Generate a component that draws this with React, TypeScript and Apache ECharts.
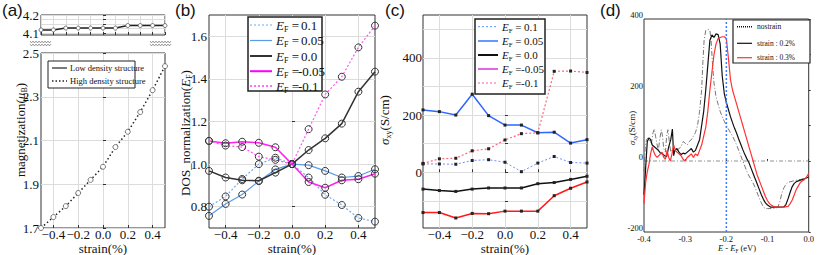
import React, { useEffect, useRef } from 'react';
import * as echarts from 'echarts';

// ---------------- data ----------------
const strain = [-0.5, -0.4, -0.3, -0.2, -0.1, 0, 0.1, 0.2, 0.3, 0.4, 0.5];

// (a) magnetization (muB)
const magLow = [4.118, 4.118, 4.128, 4.128, 4.128, 4.128, 4.128, 4.142, 4.142, 4.142, 4.142];
const magHigh = [1.70, 1.75, 1.80, 1.86, 1.92, 1.98, 2.07, 2.14, 2.23, 2.33, 2.44];

// (b) DOS normalization
const dos01 = [0.80, 0.848, 0.93, 1.0, 1.03, 1.0, 0.937, 0.856, 0.808, 0.747, 0.73];
const dos005 = [0.757, 0.813, 0.857, 0.92, 0.975, 1.0, 0.995, 0.968, 0.937, 0.944, 0.976];
const dos00 = [0.968, 0.937, 0.924, 0.922, 0.96, 1.0, 1.066, 1.121, 1.19, 1.34, 1.434];
const dosM005 = [1.109, 1.098, 1.105, 1.10, 1.079, 1.0, 0.916, 0.889, 0.924, 0.929, 0.955];
const dosM01 = [1.109, 1.087, 1.08, 1.035, 1.02, 1.0, 1.164, 1.327, 1.41, 1.548, 1.65];

// (c) sigma_xy (S/cm)
const sig01 = [29, 29, 28, 41, 44, 35, 2, 32, 55, 34, 32];
const sig005 = [218, 212, 200, 273, 198, 165, 165, 138, 140, 102, 114];
const sig00 = [-59, -64, -67, -59, -55, -55, -55, -40, -36, -25, -14];
const sigM005 = [-141, -141, -160, -144, -145, -136, -136, -136, -82, -56, -34];
const sigM01 = [31, 47, 49, 75, 82, 113, 135, 138, 353, 354, 349];

// (d) sigma_xy vs E - EF
const dNoStrain: number[][] = [
  [-0.400, -30], [-0.397, 40], [-0.394, 60], [-0.390, 65], [-0.386, 55], [-0.382, 50], [-0.378, 80], [-0.375, 90],
  [-0.372, 70], [-0.368, 45], [-0.365, 30], [-0.362, 60], [-0.358, 88], [-0.355, 70], [-0.352, 35], [-0.348, 25],
  [-0.345, 70], [-0.342, 88], [-0.338, 50], [-0.335, 25], [-0.332, 30], [-0.328, 20], [-0.325, 35], [-0.320, 30],
  [-0.315, 35], [-0.310, 40], [-0.305, 55], [-0.300, 50], [-0.295, 45], [-0.290, 55], [-0.285, 60], [-0.280, 70],
  [-0.275, 80], [-0.270, 100], [-0.265, 140], [-0.260, 200], [-0.257, 280], [-0.254, 340], [-0.250, 368], [-0.245, 371],
  [-0.240, 368], [-0.237, 340], [-0.234, 280], [-0.230, 220], [-0.225, 180], [-0.220, 160], [-0.215, 140], [-0.210, 125],
  [-0.205, 112], [-0.200, 100], [-0.195, 90], [-0.190, 80], [-0.185, 70], [-0.180, 58], [-0.175, 45], [-0.170, 30],
  [-0.165, 15], [-0.160, 0], [-0.155, -15], [-0.150, -30], [-0.145, -42], [-0.140, -52], [-0.135, -62], [-0.130, -75],
  [-0.125, -90], [-0.120, -105], [-0.115, -118], [-0.110, -130], [-0.105, -134], [-0.100, -134], [-0.090, -134], [-0.080, -133],
  [-0.075, -130], [-0.070, -115], [-0.065, -90], [-0.060, -75], [-0.055, -65], [-0.050, -60], [-0.040, -57], [-0.030, -54],
  [-0.020, -52], [-0.010, -50], [0, -45],
];
const dStrain02: number[][] = [
  [-0.400, -95], [-0.396, -20], [-0.392, 55], [-0.388, 65], [-0.384, 60], [-0.380, 45], [-0.375, 40], [-0.370, 35],
  [-0.365, 30], [-0.360, 22], [-0.355, 20], [-0.350, 15], [-0.345, 12], [-0.340, 40], [-0.335, 60], [-0.331, 90],
  [-0.328, 15], [-0.325, 30], [-0.320, 35], [-0.315, 25], [-0.310, 18], [-0.305, 22], [-0.300, 20], [-0.295, 25],
  [-0.290, 30], [-0.285, 35], [-0.280, 25], [-0.275, 30], [-0.270, 45], [-0.265, 60], [-0.260, 100], [-0.255, 140],
  [-0.250, 200], [-0.245, 270], [-0.240, 340], [-0.235, 355], [-0.230, 348], [-0.225, 358], [-0.220, 356], [-0.215, 330],
  [-0.210, 240], [-0.205, 190], [-0.200, 165], [-0.195, 145], [-0.190, 125], [-0.185, 108], [-0.180, 92], [-0.175, 78],
  [-0.170, 62], [-0.165, 47], [-0.160, 32], [-0.155, 18], [-0.150, 6], [-0.145, -5], [-0.140, -20], [-0.135, -35],
  [-0.130, -50], [-0.125, -65], [-0.120, -80], [-0.115, -95], [-0.110, -108], [-0.105, -118], [-0.100, -124], [-0.092, -130],
  [-0.080, -130], [-0.070, -130], [-0.060, -129], [-0.055, -122], [-0.050, -106], [-0.045, -88], [-0.040, -72], [-0.035, -63],
  [-0.030, -58], [-0.020, -54], [-0.010, -50], [0, -45],
];
const dStrain03: number[][] = [
  [-0.400, -120], [-0.396, -60], [-0.392, -30], [-0.388, -10], [-0.384, 20], [-0.380, 40], [-0.376, 25], [-0.372, 15],
  [-0.368, 10], [-0.364, 15], [-0.360, 20], [-0.356, 25], [-0.352, 10], [-0.348, 5], [-0.344, 30], [-0.340, 10],
  [-0.336, 0], [-0.332, 20], [-0.328, 45], [-0.324, 30], [-0.320, 25], [-0.315, 20], [-0.310, 15], [-0.305, 5],
  [-0.300, 0], [-0.295, 10], [-0.290, 15], [-0.285, 20], [-0.280, 10], [-0.275, 20], [-0.270, 15], [-0.265, 30],
  [-0.260, 45], [-0.255, 70], [-0.250, 95], [-0.245, 140], [-0.240, 200], [-0.235, 250], [-0.230, 300], [-0.225, 330],
  [-0.220, 345], [-0.215, 348], [-0.210, 350], [-0.205, 350], [-0.200, 345], [-0.195, 290], [-0.190, 230], [-0.185, 200],
  [-0.180, 180], [-0.175, 160], [-0.170, 140], [-0.165, 120], [-0.160, 100], [-0.155, 80], [-0.150, 60], [-0.145, 40],
  [-0.140, 20], [-0.135, 0], [-0.130, -20], [-0.125, -40], [-0.120, -55], [-0.115, -70], [-0.110, -85], [-0.105, -100],
  [-0.100, -112], [-0.095, -120], [-0.090, -125], [-0.085, -128], [-0.080, -130], [-0.070, -130], [-0.060, -130], [-0.050, -128],
  [-0.045, -120], [-0.040, -110], [-0.035, -95], [-0.030, -80], [-0.025, -70], [-0.020, -60], [-0.010, -52], [-0.005, -45],
  [0, -35],
];
const fermiLine = [[-0.2, -200], [-0.2, 400]];
const zeroLine = [[-0.4, 0], [0, 0]];

const strainTicks = [-0.4, -0.2, 0, 0.2, 0.4];
const magTicks = [1.7, 1.9, 2.1, 2.3, 2.5];
const dosTicks = [0.8, 1.0, 1.2, 1.4, 1.6];
const sigTicks = [-100, 0, 100, 200, 300, 400, 500];
const sigLabels = [0, 200, 400];

// ---------------- helpers ----------------
const SERIF = 'Liberation Serif';
const SANS = 'Liberation Sans';
const pair = (ys: number[]) => strain.map((x, i) => [x, ys[i]]);

const gridLine = { show: true, lineStyle: { color: '#dcdcdc', width: 1 } };

function text(x: number, y: number, t: string, o: any = {}) {
  const { rotation, ...style } = o;
  return {
    type: 'text', x, y, z: 100, rotation: rotation || 0,
    style: {
      text: t, fill: '#111', fontFamily: SERIF, fontSize: 13,
      align: 'left', verticalAlign: 'middle', ...style,
    },
  };
}
function line(x1: number, y1: number, x2: number, y2: number, stroke: string, lineWidth: number, lineDash?: number[]) {
  return {
    type: 'line', z: 100,
    shape: { x1, y1, x2, y2 },
    style: { stroke, lineWidth, lineDash: lineDash || null },
  };
}
function box(x: number, y: number, w: number, h: number, lw: number) {
  return {
    type: 'rect', z: 99,
    shape: { x, y, width: w, height: h },
    style: { fill: '#fff', stroke: '#222', lineWidth: lw },
  };
}
// small wavy break symbol (two stacked zigzags)
function breakMark(x0: number, y0: number, w: number) {
  const els: any[] = [];
  [0, 3].forEach((dy) => {
    const pts: number[][] = [];
    for (let px = 0; px <= w; px += 1.5) {
      pts.push([x0 + px, y0 + dy + ((Math.round(px / 1.5) % 2) ? 0.9 : -0.9)]);
    }
    els.push({ type: 'polyline', z: 100, shape: { points: pts }, style: { stroke: '#777', lineWidth: 0.8, fill: null } });
  });
  return els;
}

function efRich(fs: number) {
  return {
    i: { fontFamily: SERIF, fontStyle: 'italic', fontSize: fs, lineHeight: fs + 3 },
    s: { fontFamily: SERIF, fontSize: fs * 0.62, verticalAlign: 'bottom', lineHeight: fs * 0.62 },
    n: { fontFamily: SERIF, fontSize: fs, lineHeight: fs + 3 },
  };
}

const efLegend = [
  { v: '0.1', neg: false },
  { v: '0.05', neg: false },
  { v: '0.0', neg: false },
  { v: '-0.05', neg: true },
  { v: '-0.1', neg: true },
];

const minus = (s: string) => s.replace('-', '\u2212');

function App() {
  const ref = useRef<HTMLDivElement>(null);
  useEffect(() => {
    if (!ref.current) return;
    const chart = echarts.init(ref.current, null, { renderer: 'svg' });

    const axisLabelStyle = { fontFamily: SERIF, fontSize: 13, color: '#111' };
    const tick = { show: true, inside: true, length: 3, lineStyle: { color: '#333' } };
    const fmt1 = (v: number) => (Math.abs(v) < 1e-9 ? '0.0' : minus(v.toFixed(1)));
    const fmtD = (v: number) => (Math.abs(v) < 1e-9 ? '0.0' : v.toFixed(1));

    const xAxis: any[] = [
      { type: 'value', gridIndex: 0, min: -0.5, max: 0.5, interval: 0.1, axisLine: { show: false },
        axisLabel: { show: false }, axisTick: tick, splitLine: gridLine },
      { type: 'value', gridIndex: 1, min: -0.5, max: 0.5, axisLine: { show: false },
        axisLabel: { ...axisLabelStyle, margin: 0, customValues: strainTicks, formatter: fmt1 },
        axisTick: { ...tick, customValues: strainTicks }, splitLine: gridLine },
      { type: 'value', gridIndex: 2, min: -0.5, max: 0.5, axisLine: { show: false },
        axisLabel: { ...axisLabelStyle, margin: 0, customValues: strainTicks, formatter: fmt1 },
        axisTick: { ...tick, customValues: strainTicks }, splitLine: gridLine },
      { type: 'value', gridIndex: 3, min: -0.5, max: 0.5, axisLine: { show: false },
        axisLabel: { ...axisLabelStyle, margin: 0, customValues: strainTicks, formatter: fmt1 },
        axisTick: { ...tick, customValues: strainTicks }, splitLine: gridLine },
      { type: 'value', gridIndex: 4, min: -0.4, max: 0, interval: 0.1, axisLine: { show: false },
        axisLabel: { fontFamily: SERIF, fontSize: 8.5, color: '#111', margin: 2, formatter: fmtD },
        axisTick: { ...tick, length: 2 }, splitLine: { show: false } },
    ];

    const yAxis: any[] = [
      { type: 'value', gridIndex: 0, min: 4.09, max: 4.2, axisLine: { show: false },
        axisLabel: { ...axisLabelStyle, margin: 2, customValues: [4.1, 4.2], formatter: (v: number) => v.toFixed(1) },
        axisTick: { ...tick, customValues: [4.1, 4.125, 4.15, 4.175, 4.2] }, splitLine: gridLine },
      { type: 'value', gridIndex: 1, min: 1.7, max: 2.5, axisLine: { show: false },
        axisLabel: { ...axisLabelStyle, margin: 2, customValues: magTicks, formatter: (v: number) => v.toFixed(1) },
        axisTick: { ...tick, customValues: magTicks }, splitLine: gridLine },
      { type: 'value', gridIndex: 2, min: 0.7, max: 1.7, axisLine: { show: false },
        axisLabel: { ...axisLabelStyle, margin: 2, customValues: dosTicks, formatter: (v: number) => v.toFixed(1) },
        axisTick: { ...tick, customValues: dosTicks }, splitLine: gridLine },
      { type: 'value', gridIndex: 3, min: -195, max: 550, axisLine: { show: false },
        axisLabel: { ...axisLabelStyle, margin: 1, customValues: sigLabels },
        axisTick: { ...tick, customValues: sigTicks }, splitLine: gridLine },
      { type: 'value', gridIndex: 4, min: -200, max: 400, interval: 100, axisLine: { show: false },
        axisLabel: { fontFamily: SERIF, fontSize: 8.5, color: '#111', margin: 1, verticalAlign: 'bottom',
          formatter: (v: number) => (Math.round(v) % 200 === 0 ? String(Math.round(v)) : '') },
        axisTick: { ...tick, length: 2 }, splitLine: { show: false } },
    ];

    const gridBase = { show: true, borderColor: '#333', borderWidth: 1, backgroundColor: 'transparent', containLabel: false };
    const grid = [
      { ...gridBase, left: 41, top: 15, width: 124, height: 20 },
      { ...gridBase, left: 41, top: 53, width: 124, height: 175 },
      { ...gridBase, left: 209, top: 15, width: 166, height: 213 },
      { ...gridBase, left: 423, top: 15, width: 164, height: 213 },
      { ...gridBase, left: 644, top: 19, width: 168, height: 213 },
    ];

    const openCircle = { color: 'rgba(0,0,0,0)', borderColor: '#333', borderWidth: 1 };
    const bSeries = (data: number[], ls: any) => ({
      type: 'line', xAxisIndex: 2, yAxisIndex: 2, data: pair(data),
      symbol: 'circle', symbolSize: 7, itemStyle: openCircle, lineStyle: ls, silent: true,
    });
    const cSeries = (data: number[], ls: any) => ({
      type: 'line', xAxisIndex: 3, yAxisIndex: 3, data: pair(data),
      symbol: 'rect', symbolSize: 3, itemStyle: { color: '#222' }, lineStyle: ls, silent: true,
    });
    const dSeries = (data: number[][], ls: any) => ({
      type: 'line', xAxisIndex: 4, yAxisIndex: 4, data, symbol: 'none', lineStyle: ls, silent: true,
    });

    const series: any[] = [
      { type: 'line', xAxisIndex: 0, yAxisIndex: 0, data: pair(magLow), symbol: 'circle', symbolSize: 4,
        itemStyle: { color: '#fff', borderColor: '#555', borderWidth: 0.8 }, lineStyle: { color: '#222', width: 1.5 } },
      { type: 'line', xAxisIndex: 1, yAxisIndex: 1, data: pair(magHigh), symbol: 'circle', symbolSize: 5,
        itemStyle: { color: '#fff', borderColor: '#555', borderWidth: 0.8 },
        lineStyle: { color: '#222', width: 1.5, type: [1.5, 2.5] } },

      bSeries(dos01, { color: '#6eaaf0', width: 1.2, type: [2, 2] }),
      bSeries(dos005, { color: '#5b9be6', width: 1.2 }),
      bSeries(dos00, { color: '#333', width: 1.5 }),
      bSeries(dosM005, { color: '#ff22ee', width: 1.5 }),
      bSeries(dosM01, { color: '#ff55ee', width: 1.2, type: [2, 2] }),

      cSeries(sig01, { color: '#6f8fff', width: 1, type: [2, 2] }),
      cSeries(sig005, { color: '#2f66ff', width: 1.5 }),
      cSeries(sig00, { color: '#111', width: 1.5 }),
      cSeries(sigM005, { color: '#ff1a1a', width: 1.5 }),
      cSeries(sigM01, { color: '#ff6677', width: 1.2, type: [2, 2] }),

      dSeries(zeroLine, { color: '#777', width: 0.8, type: [4, 2, 1, 2] }),
      dSeries(dNoStrain, { color: '#777', width: 1, type: [5, 2, 1, 2] }),
      dSeries(dStrain02, { color: '#111', width: 1.2 }),
      dSeries(dStrain03, { color: '#ff3333', width: 1.2 }),
      dSeries(fermiLine, { color: '#3a7bff', width: 1.5, type: [2, 2] }),
    ];

    const g: any[] = [];
    // panel labels
    g.push(text(2, 10, '(a)', { fontFamily: SANS, fontSize: 17 }));
    g.push(text(175, 10, '(b)', { fontFamily: SANS, fontSize: 17 }));
    g.push(text(385, 10, '(c)', { fontFamily: SANS, fontSize: 17 }));
    g.push(text(600, 10, '(d)', { fontFamily: SANS, fontSize: 17 }));

    // axis break marks (a)
    g.push(...breakMark(30, 42, 22));
    g.push(...breakMark(150, 42, 21));

    // axis names
    g.push(text(20, 130, '{n|magnetization(}{i|μ}{s|B}{n|)}', {
      rotation: Math.PI / 2, align: 'center', rich: efRich(13),
    }));
    g.push(text(185, 133, '{n|DOS_normalization(}{i|E}{s|F}{n|)}', {
      rotation: Math.PI / 2, align: 'center', rich: efRich(13),
    }));
    g.push(text(384, 120, '{i|σ}{s|xy}{n|(S/cm)}', {
      rotation: Math.PI / 2, align: 'center', rich: efRich(13),
    }));
    g.push(text(632, 128, '{i|σ}{s|xy}{n|(S/cm)}', {
      rotation: Math.PI / 2, align: 'center', rich: efRich(9),
    }));
    g.push(text(103, 248, 'strain(%)', { align: 'center' }));
    g.push(text(292, 248, 'strain(%)', { align: 'center' }));
    g.push(text(505, 248, 'strain(%)', { align: 'center' }));
    g.push(text(737, 248, '{i|E}{n| - }{i|E}{s|F}{n| (eV)}', { align: 'center', rich: efRich(8.5) }));

    // legend (a)
    g.push(box(48, 61, 87, 27, 1));
    g.push(line(52, 68, 67, 68, '#222', 1.2));
    g.push(text(70, 68, 'Low density structure', { fontSize: 8.5 }));
    g.push(line(52, 81, 67, 81, '#222', 1.3, [1.5, 2]));
    g.push(text(70, 81, 'High density structure', { fontSize: 8.5 }));

    // legend (b)
    const bRows = [25, 40.5, 56, 71.2, 86];
    const bStyles = [
      { c: '#6eaaf0', w: 1.2, d: [2, 2] },
      { c: '#5b9be6', w: 1.2 },
      { c: '#333', w: 2 },
      { c: '#ff00ff', w: 2 },
      { c: '#ff44ee', w: 1.5, d: [2, 2] },
    ];
    g.push(box(248, 17, 74, 74, 1.5));
    efLegend.forEach((e, i) => {
      const s: any = bStyles[i];
      g.push(line(250, bRows[i], 272, bRows[i], s.c, s.w, s.d));
      g.push(text(276, bRows[i], '{i|E}{s|F}{n| =}', { rich: efRich(13) }));
      g.push(text(e.neg ? 298 : 301, bRows[i], e.v, { fontSize: 13 }));
    });

    // legend (c)
    const cRows = [26.7, 41, 55, 69, 83];
    const cStyles = [
      { c: '#77aaff', w: 1.2, d: [2, 2] },
      { c: '#3377ff', w: 1.5 },
      { c: '#111', w: 2 },
      { c: '#dd33dd', w: 1.5 },
      { c: '#ffaadd', w: 2, d: [2, 2] },
    ];
    g.push(box(475, 19, 70, 75, 1.5));
    efLegend.forEach((e, i) => {
      const s: any = cStyles[i];
      g.push(line(478, cRows[i], 498, cRows[i], s.c, s.w, s.d));
      g.push(text(502, cRows[i], '{i|E}{s|F}{n| =}', { rich: efRich(11) }));
      g.push(text(e.neg ? 521 : 524, cRows[i], e.v, { fontSize: 11 }));
    });

    // legend (d)
    g.push(box(733, 20, 77, 43, 1.2));
    g.push(line(737, 26.7, 752, 26.7, '#111', 1.5, [1, 1]));
    g.push(text(757, 26.7, 'nostrain', { fontSize: 7.5 }));
    g.push(line(737, 43.3, 752, 43.3, '#111', 1.2));
    g.push(text(757, 43.3, 'strain : 0.2%', { fontSize: 7.5 }));
    g.push(line(737, 57.7, 752, 57.7, '#ff3333', 1.2));
    g.push(text(757, 57.7, 'strain : 0.3%', { fontSize: 7.5 }));

    chart.setOption({
      animation: false,
      backgroundColor: '#fff',
      grid, xAxis, yAxis, series, graphic: g,
    });
    return () => chart.dispose();
  }, []);

  return (
    <div
      ref={ref}
      style={{ position: 'fixed', left: 0, top: 0, width: 817, height: 255, background: '#fff' }}
    />
  );
}

export default App;
